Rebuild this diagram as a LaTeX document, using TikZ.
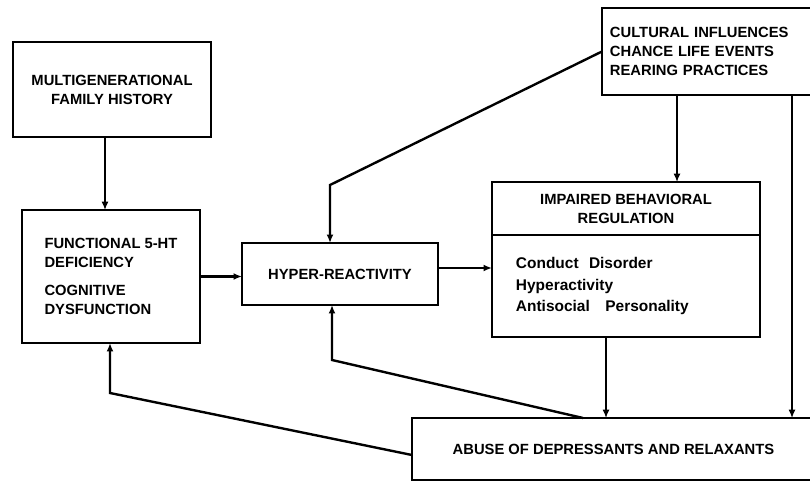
\documentclass[tikz,border=0pt]{standalone}
\usepackage{fontspec}
\setmainfont{Liberation Sans}
\usepackage{tikz}
\usetikzlibrary{arrows.meta, positioning, calc}

\begin{document}
\begin{tikzpicture}[x=0.025cm, y=-0.025cm,
    box/.style={draw, line width=1.3pt, outer sep=0pt, inner sep=0pt,
        font=\fontsize{10.5}{13.5}\selectfont\bfseries},
    link/.style={line width=1pt, -{Latex[length=6pt, width=5pt]}},
    heavy/.style={line width=1.7pt, -{Latex[length=6pt, width=5pt]}}]

    \useasboundingbox (0,0) rectangle (810,486);

    % ============================================================
    % BOXES
    % ============================================================
    \node[box, minimum width=4.95cm, minimum height=2.375cm, align=center]
        (fam) at (112,89.5) {MULTIGENERATIONAL\\FAMILY HISTORY};

    \node[box, minimum width=4.45cm, minimum height=3.325cm, align=left]
        (func) at (111,276.5)
        {FUNCTIONAL 5-HT\\DEFICIENCY\\[6pt]COGNITIVE\\DYSFUNCTION};

    \node[box, minimum width=4.9cm, minimum height=1.55cm]
        (hyper) at (340,274) {HYPER-REACTIVITY};

    \node[box, minimum width=6.7cm, minimum height=1.325cm, align=center]
        (imphead) at (626,208.5) {IMPAIRED BEHAVIORAL\\REGULATION};
    \node[box, minimum width=6.7cm, minimum height=2.55cm, inner xsep=0.6cm,
        text width=5.5cm, align=left, font=\fontsize{11}{15}\selectfont\bfseries,
        below=0pt of imphead]
        (impbody) {Conduct\ \ Disorder\\Hyperactivity\\Antisocial\ \ \ Personality};

    \node[box, minimum width=5.325cm, minimum height=2.175cm, inner xsep=0.2cm,
        text width=4.925cm, align=left]
        (cult) at (708.5,51.5)
        {CULTURAL INFLUENCES\\CHANCE LIFE EVENTS\\REARING PRACTICES};

    \node[box, minimum width=10.075cm, minimum height=1.55cm]
        (abuse) at (613.5,449) {ABUSE OF DEPRESSANTS AND RELAXANTS};

    % ============================================================
    % BEND AND DROP POINTS
    % ============================================================
    \coordinate (k1) at (330,185);
    \coordinate (k2) at (332,360);
    \coordinate (k3) at (110,393);
    \coordinate (d1) at (677,0);
    \coordinate (d2) at (792,0);
    \coordinate (d3) at (606,0);
    \coordinate (d4) at (583,0);
    \coordinate (d5) at (0,455);
    \coordinate (h1) at (0,268);
    \coordinate (f1) at (105,0);

    % ============================================================
    % FORWARD PATH
    % ============================================================
    \draw[link] (f1 |- fam.south) -- (f1 |- func.north);
    \draw[heavy] (func.east) -- (func.east -| hyper.west);
    \draw[heavy] (hyper.east |- h1) -- (impbody.west |- h1);
    \draw[link] (d3 |- impbody.south) -- (d3 |- abuse.north);

    % ============================================================
    % ENVIRONMENT
    % ============================================================
    \draw[heavy] (cult.west) -- (k1) -- (k1 |- hyper.north);
    \draw[link] (d1 |- cult.south) -- (d1 |- imphead.north);
    \draw[link] (d2 |- cult.south) -- (d2 |- abuse.north);

    % ============================================================
    % FEEDBACK FROM ABUSE
    % ============================================================
    \draw[heavy] (d4 |- abuse.north) -- (k2) -- (k2 |- hyper.south);
    \draw[heavy] (abuse.west |- d5) -- (k3) -- (k3 |- func.south);

\end{tikzpicture}
\end{document}
